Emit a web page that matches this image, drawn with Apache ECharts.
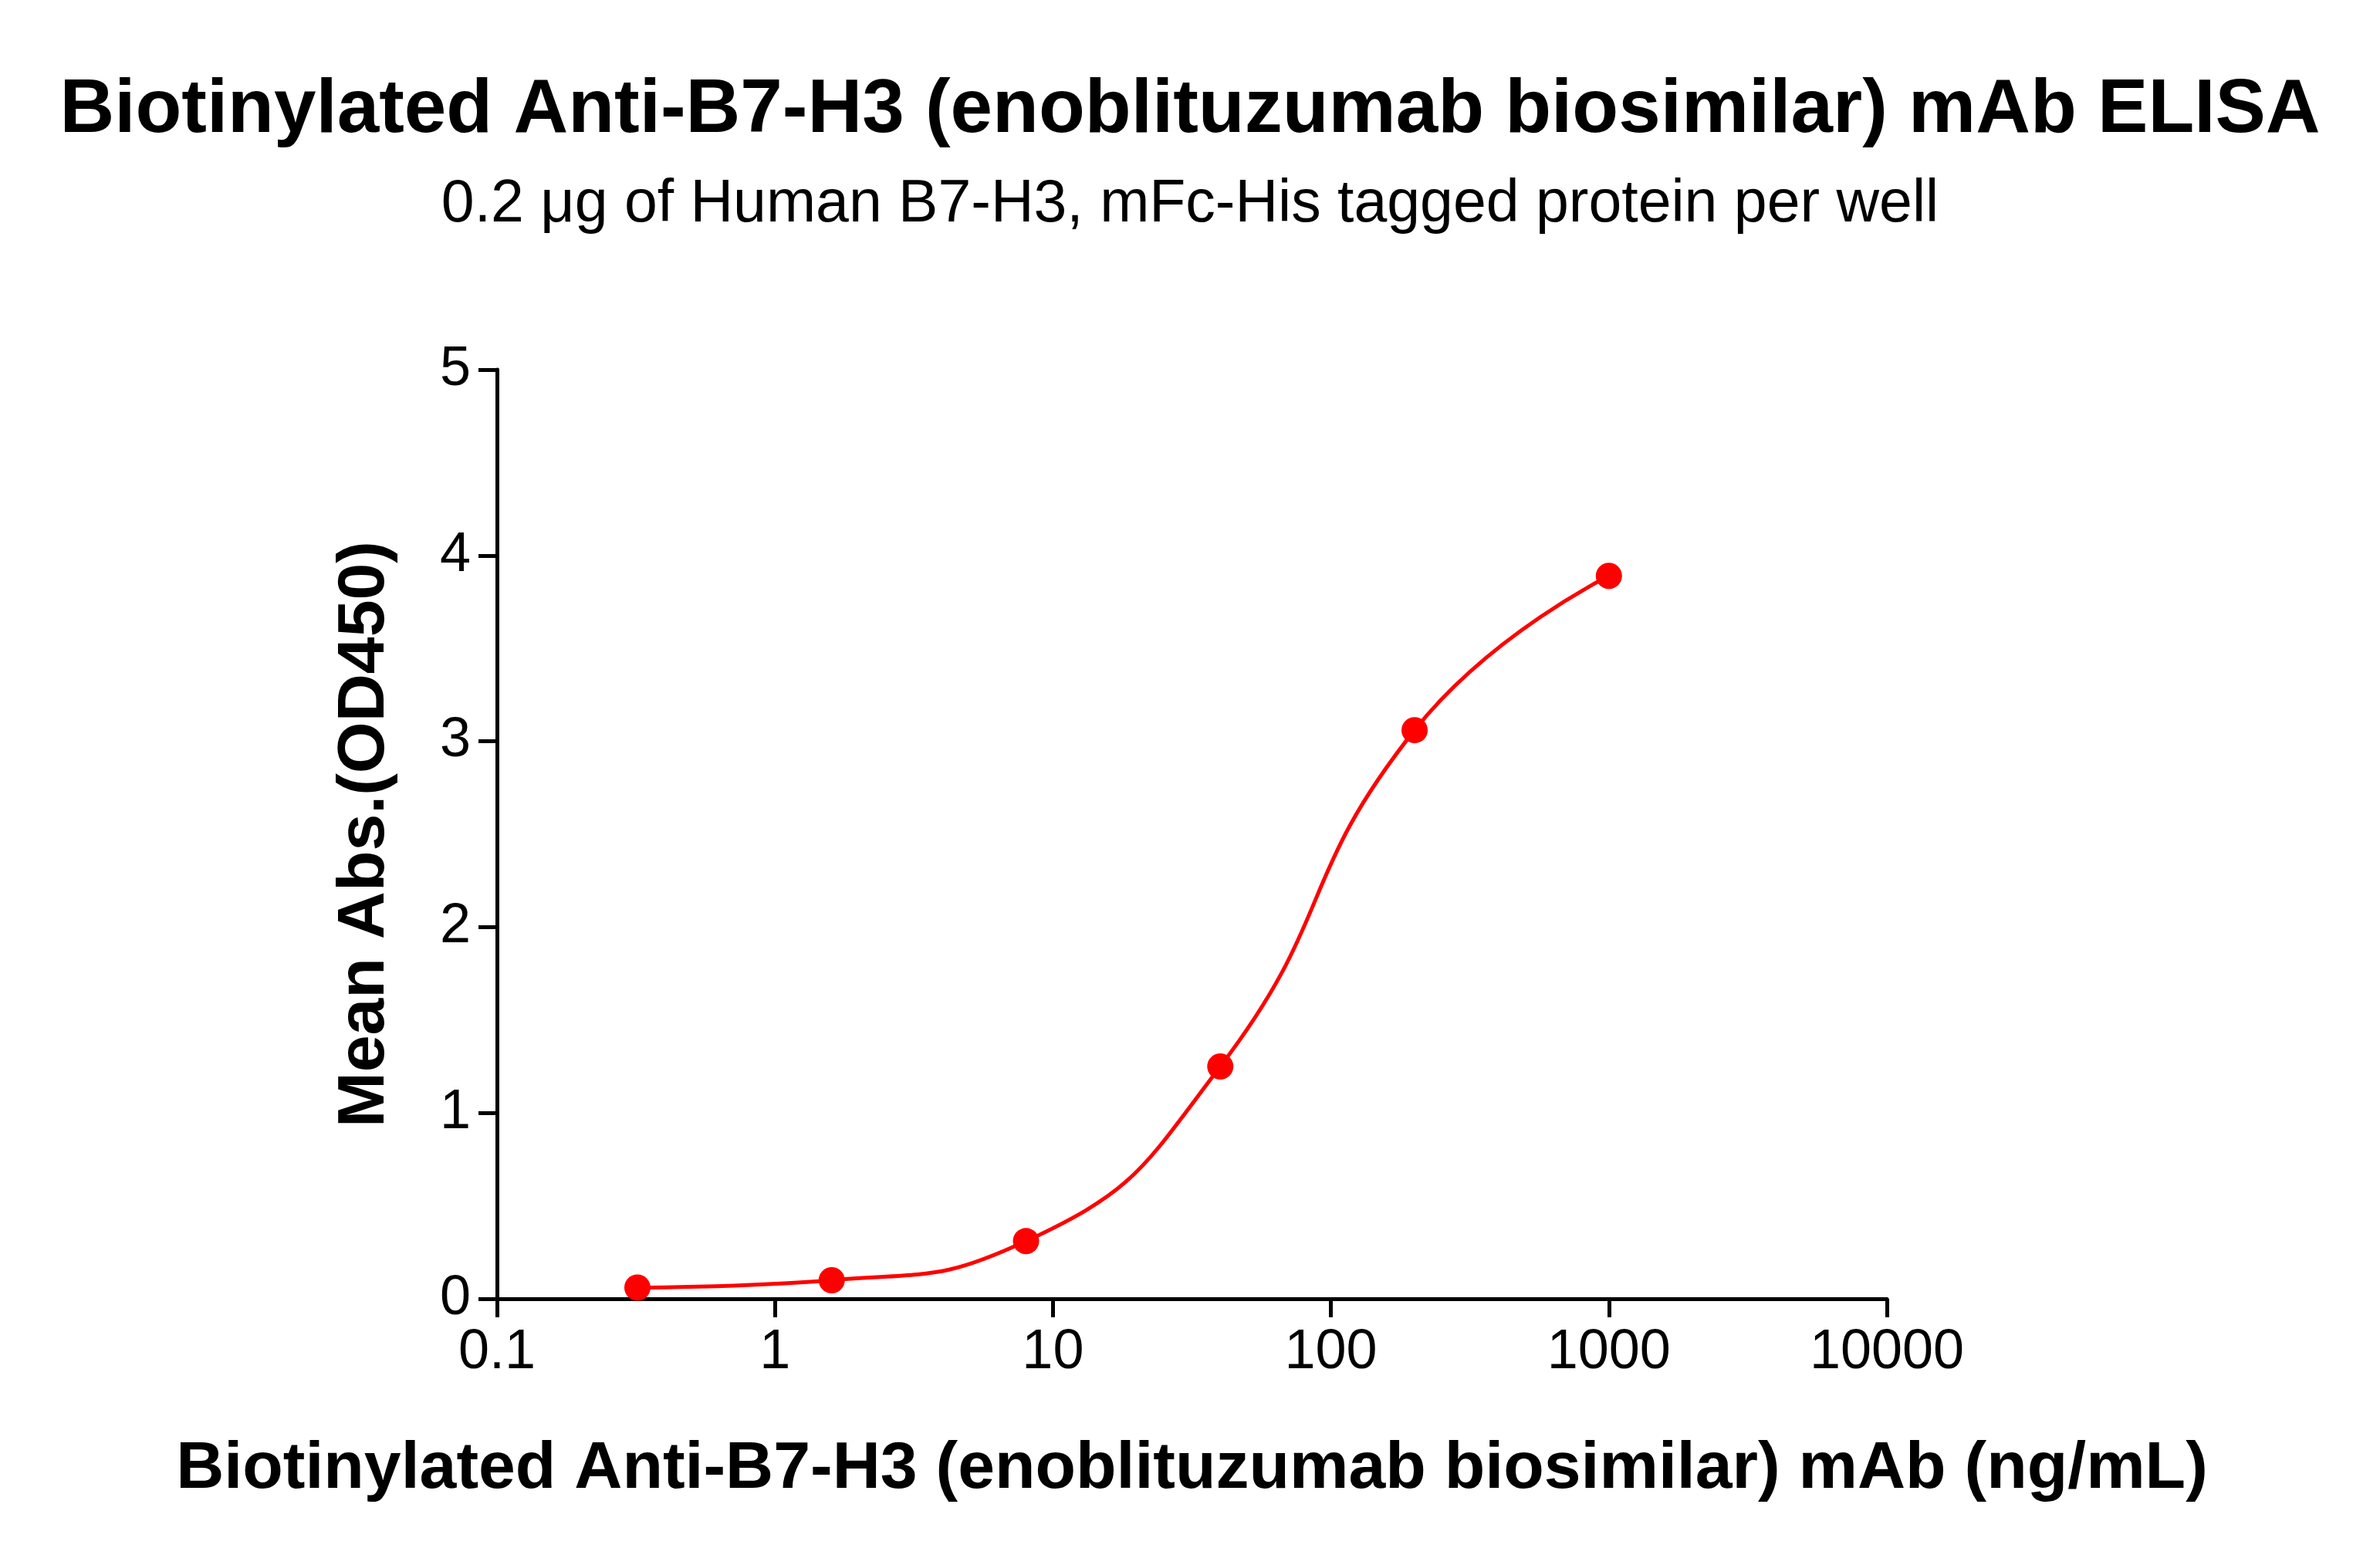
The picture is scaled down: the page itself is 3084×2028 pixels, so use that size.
<!DOCTYPE html>
<html><head><meta charset="utf-8">
<script src="https://cdn.jsdelivr.net/npm/echarts@6/dist/echarts.min.js"></script>
<style>html,body{margin:0;padding:0;background:#fff}#c{width:3084px;height:2028px}</style>
</head><body><div id="c"></div>
<script>
const concentrations = [0.32, 1.6, 8, 40, 200, 1000];
const absorbance = [0.06, 0.10, 0.31, 1.25, 3.06, 3.89];
const yTicks = [0, 1, 2, 3, 4, 5];
const chart = echarts.init(document.getElementById('c'));
const font = 'Arial, "Liberation Sans", sans-serif';
chart.setOption({
  backgroundColor: '#fff',
  animation: false,
  title: [
    {text: 'Biotinylated Anti-B7-H3 (enoblituzumab biosimilar) mAb ELISA', left: 'center', top: 90,
     textStyle: {fontFamily: font, fontWeight: 'bold', fontSize: 98, color: '#000'}},
    {text: '0.2 μg of Human B7-H3, mFc-His tagged protein per well', left: 'center', top: 222,
     textStyle: {fontFamily: font, fontWeight: 'normal', fontSize: 77, color: '#000'}}
  ],
  grid: {left: 644, right: 639, top: 479, bottom: 345},
  xAxis: {
    type: 'log', logBase: 10, min: 0.1, max: 10000,
    name: 'Biotinylated Anti-B7-H3 (enoblituzumab biosimilar) mAb (ng/mL)',
    nameLocation: 'middle', nameGap: 178,
    nameTextStyle: {fontFamily: font, fontWeight: 'bold', fontSize: 86, color: '#000'},
    axisLine: {lineStyle: {color: '#000', width: 5}},
    axisTick: {length: 24, lineStyle: {color: '#000', width: 5}},
    minorTick: {show: false},
    splitLine: {show: false},
    axisLabel: {fontFamily: font, fontSize: 72, color: '#000', margin: 34,
      formatter: v => String(+v.toPrecision(6))}
  },
  yAxis: {
    type: 'value', min: yTicks[0], max: yTicks[yTicks.length-1], interval: 1,
    name: 'Mean Abs.(OD450)', nameLocation: 'middle', nameGap: 128,
    nameTextStyle: {fontFamily: font, fontWeight: 'bold', fontSize: 86, color: '#000'},
    axisLine: {show: true, lineStyle: {color: '#000', width: 5}},
    axisTick: {show: true, length: 24, lineStyle: {color: '#000', width: 5}},
    splitLine: {show: false},
    axisLabel: {fontFamily: font, fontSize: 72, color: '#000', margin: 34}
  },
  series: [{
    type: 'line', smooth: 0.5,
    data: concentrations.map((c, i) => [c, absorbance[i]]),
    symbol: 'circle', symbolSize: 34,
    itemStyle: {color: '#ff0000'},
    lineStyle: {color: '#ff0000', width: 5}
  }]
});
</script></body></html>
